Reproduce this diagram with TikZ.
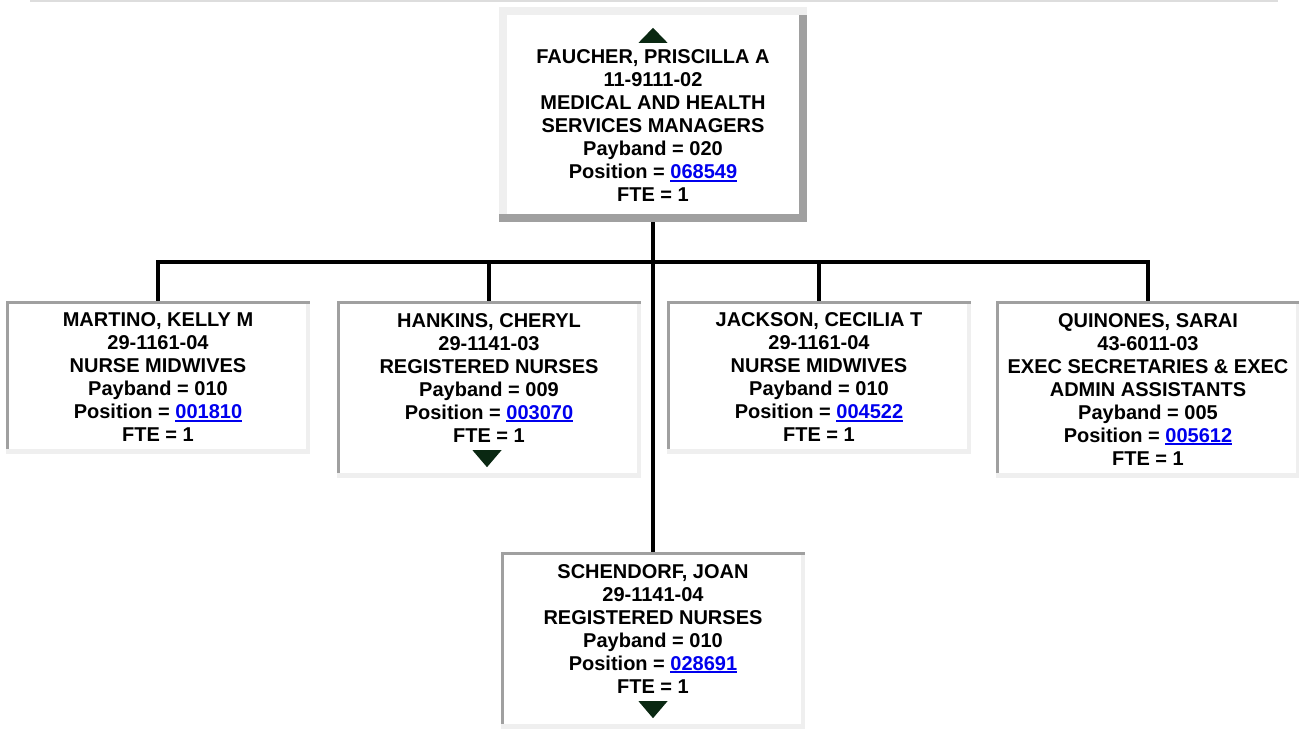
\documentclass[tikz,border=0pt]{standalone}
\usepackage{fontspec}
\setmainfont{Liberation Sans}
\definecolor{boxdark}{RGB}{160,160,160}
\definecolor{boxlight}{RGB}{239,239,239}
\definecolor{rulegray}{RGB}{221,221,221}
\definecolor{linkblue}{RGB}{0,0,238}
\definecolor{trigreen}{RGB}{10,40,18}
\newcommand{\poslink}[1]{\textcolor{linkblue}{\setbox0=\hbox{#1}\rlap{\rule[-2.8pt]{\wd0}{1.8pt}}\box0}}

\begin{document}
\begin{tikzpicture}[x=1pt, y=-1pt,
    person/.style={minimum width=304pt, inner sep=0pt, align=center, fill=white,
        font=\fontsize{20pt}{23pt}\selectfont\bfseries},
    inset/.style={person, path picture={
        \fill[boxlight] (path picture bounding box.south west) rectangle (path picture bounding box.north east);
        \fill[boxdark] (path picture bounding box.north west) rectangle ([yshift=-3pt]path picture bounding box.north east);
        \fill[boxdark] (path picture bounding box.north west) rectangle ([shift={(3pt,5pt)}]path picture bounding box.south west);
        \fill[white] ([shift={(3pt,-3pt)}]path picture bounding box.north west) rectangle ([shift={(-4pt,5pt)}]path picture bounding box.south east);
    }},
    raised/.style={person, minimum width=308pt, path picture={
        \fill[boxlight] (path picture bounding box.south west) rectangle (path picture bounding box.north east);
        \fill[boxdark] (path picture bounding box.south west) rectangle ([yshift=8pt]path picture bounding box.south east);
        \fill[boxdark] ([shift={(-8pt,-8pt)}]path picture bounding box.north east) rectangle (path picture bounding box.south east);
        \fill[white] ([shift={(8pt,-8pt)}]path picture bounding box.north west) rectangle ([shift={(-8pt,8pt)}]path picture bounding box.south east);
    }},
    conn/.style={line width=3.5pt, black},
    tri/.style={fill=trigreen}
]
    \useasboundingbox (0,0) rectangle (1299,729);
    \draw[rulegray, line width=1.5pt] (30,1) -- (1278,1);

    % Manager
    \node[raised, minimum height=215pt] (faucher) at (653,114.5) {\phantom{X}\\FAUCHER, PRISCILLA A\\11-9111-02\\MEDICAL AND HEALTH\\SERVICES MANAGERS\\Payband = 020\\Position = \poslink{068549}\\FTE = 1};

    % Direct reports
    \node[inset, minimum height=153pt] (martino) at (158,377.5) {MARTINO, KELLY M\\29-1161-04\\NURSE MIDWIVES\\Payband = 010\\Position = \poslink{001810}\\FTE = 1};
    \node[inset, minimum height=177pt] (hankins) at (489,389.5) {HANKINS, CHERYL\\29-1141-03\\REGISTERED NURSES\\Payband = 009\\Position = \poslink{003070}\\FTE = 1\\\phantom{X}};
    \node[inset, minimum height=153pt] (jackson) at (819,377.5) {JACKSON, CECILIA T\\29-1161-04\\NURSE MIDWIVES\\Payband = 010\\Position = \poslink{004522}\\FTE = 1};
    \node[inset, minimum height=177pt] (quinones) at (1148,389.5) {QUINONES, SARAI\\43-6011-03\\EXEC SECRETARIES \& EXEC\\ADMIN ASSISTANTS\\Payband = 005\\Position = \poslink{005612}\\FTE = 1};
    \node[inset, minimum height=177pt] (schendorf) at (653,640.5) {SCHENDORF, JOAN\\29-1141-04\\REGISTERED NURSES\\Payband = 010\\Position = \poslink{028691}\\FTE = 1\\\phantom{X}};

    % Connectors
    \coordinate (bus) at (653,262);
    \draw[conn] (martino.north) |- (bus) -| (quinones.north);
    \draw[conn] (hankins.north) -- (hankins.north |- bus);
    \draw[conn] (jackson.north) -- (jackson.north |- bus);
    \draw[conn] (faucher.south) -- (schendorf.north);

    % Expand arrows
    \fill[tri] ([yshift=-21pt]faucher.north) -- ([shift={(-14.5pt,-36pt)}]faucher.north) -- ([shift={(14.5pt,-36pt)}]faucher.north) -- cycle;
    \fill[tri] ([shift={(-2pt,11pt)}]hankins.south) -- ([shift={(-16.5pt,28pt)}]hankins.south) -- ([shift={(12.5pt,28pt)}]hankins.south) -- cycle;
    \fill[tri] ([yshift=11pt]schendorf.south) -- ([shift={(-14.5pt,28pt)}]schendorf.south) -- ([shift={(14.5pt,28pt)}]schendorf.south) -- cycle;
\end{tikzpicture}
\end{document}
